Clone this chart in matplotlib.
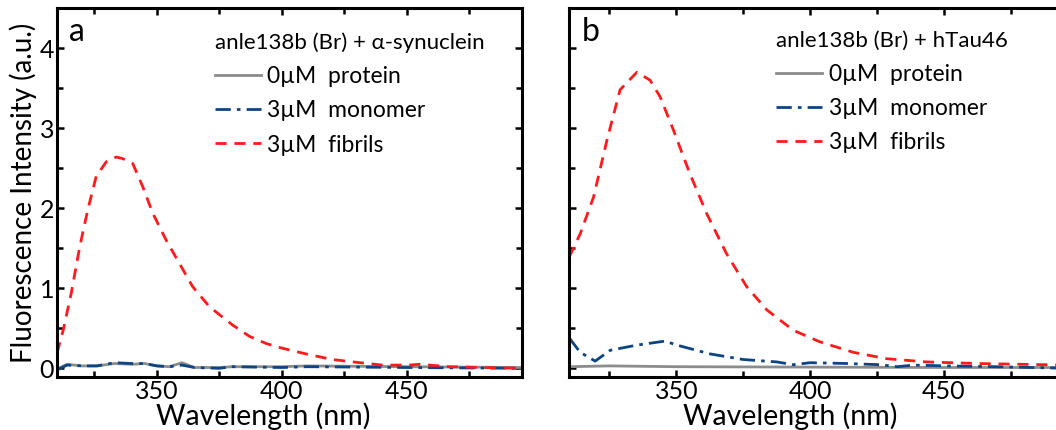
import matplotlib
matplotlib.use('Agg')
import matplotlib.pyplot as plt
from matplotlib.ticker import MultipleLocator

plt.rcParams['font.family'] = ['Lato', 'DejaVu Sans']

# ---- panel a: anle138b (Br) + alpha-synuclein ----
a_fib_x = [310, 312.5, 315.7, 319.1, 322.3, 325.7, 329.7, 333.7, 336.3, 340.3, 344.3,
           348.3, 353.7, 359, 364.3, 371, 380.3, 387, 393.7, 400.3, 411, 420.3,
           428.3, 440.3, 451, 455, 467, 480.3, 496]
a_fib_y = [0.19, 0.48, 0.94, 1.52, 1.98, 2.40, 2.58, 2.64, 2.62, 2.56, 2.27,
           1.94, 1.60, 1.31, 1.02, 0.77, 0.54, 0.40, 0.31, 0.25, 0.17, 0.11,
           0.08, 0.04, 0.04, 0.05, 0.02, 0.01, 0.0]
a_mon_x = [310, 314, 320, 326, 333, 340, 345, 350, 355, 360, 365, 375, 380, 400,
           410, 450, 496]
a_mon_y = [-0.02, 0.04, 0.03, 0.03, 0.07, 0.06, 0.06, 0.03, 0.02, 0.04, 0.01,
           0.0, 0.02, 0.01, 0.02, 0.01, 0.0]
a_blank_x = [310, 314, 320, 326, 333, 340, 345, 350, 355, 360, 365, 375, 380, 400,
             410, 450, 496]
a_blank_y = [-0.01, 0.05, 0.03, 0.03, 0.06, 0.05, 0.06, 0.03, 0.02, 0.07, 0.01,
             0.01, 0.02, 0.02, 0.03, 0.02, 0.01]

# ---- panel b: anle138b (Br) + hTau46 ----
b_fib_x = [310, 314.1, 319.1, 324.1, 329, 335.3, 340.2, 344, 348.9, 355.1, 361.4,
           368.8, 376.3, 383.8, 393.7, 403.7, 416.1, 428.5, 443.4, 462, 496]
b_fib_y = [1.39, 1.68, 2.14, 2.85, 3.48, 3.70, 3.60, 3.39, 2.98, 2.43, 1.93,
           1.43, 1.02, 0.73, 0.475, 0.33, 0.20, 0.12, 0.08, 0.06, 0.04]
b_mon_x = [310, 314.1, 319.7, 325.3, 335.3, 345.8, 350.2, 362.6, 375, 387.5, 393.7,
           400, 413.7, 426, 432.5, 438.5, 451, 469.8, 496]
b_mon_y = [0.38, 0.20, 0.09, 0.225, 0.29, 0.34, 0.29, 0.18, 0.11, 0.08, 0.045,
           0.07, 0.06, 0.045, 0.02, 0.04, 0.03, 0.02, 0.0]
b_blank_x = [310, 325, 350, 400, 450, 496]
b_blank_y = [0.02, 0.03, 0.02, 0.015, 0.01, 0.01]

labels = ['0\u00b5M  protein', '3\u00b5M  monomer', '3\u00b5M  fibrils']
gray = '#8c8c8c'
blue = '#0b4587'
red = '#ff1a1a'

fig = plt.figure(figsize=(10.56, 4.30), dpi=100)
ax_a = fig.add_axes([0.054, 0.123, 0.440, 0.858])
ax_b = fig.add_axes([0.539, 0.123, 0.4716, 0.858])


def draw(ax, bx, by, mx, my, fx, fy, title, letter, ylabels, leg_pos):
    ax.plot(bx, by, color=gray, lw=2, label=labels[0])
    ax.plot(mx, my, color=blue, lw=2, dashes=(5.5, 2.2, 1.3, 2.2), label=labels[1])
    ax.plot(fx, fy, color=red, lw=2, dashes=(4, 2.8), label=labels[2])
    ax.set_xlim(310, 496)
    ax.set_ylim(-0.11, 4.5)
    ax.xaxis.set_major_locator(MultipleLocator(50))
    ax.xaxis.set_minor_locator(MultipleLocator(25))
    ax.yaxis.set_major_locator(MultipleLocator(1))
    ax.yaxis.set_minor_locator(MultipleLocator(0.5))
    ax.tick_params(which='both', direction='in', top=True, right=True, width=1.8,
                   labelsize=18, pad=2)
    ax.tick_params(which='major', length=5)
    ax.tick_params(which='minor', length=4)
    if not ylabels:
        ax.tick_params(axis='y', labelleft=False)
    for s in ax.spines.values():
        s.set_linewidth(2.2)
    ax.set_xlabel('Wavelength (nm)', fontsize=20.5, labelpad=0, x=0.443)
    leg = ax.legend(title=title, frameon=False, fontsize=16.5, title_fontsize=16,
                    loc='upper left', bbox_to_anchor=leg_pos,
                    alignment='left', handlelength=2.0, handletextpad=0.3,
                    labelspacing=0.58, borderaxespad=0.4)
    ax.text(0.025, 0.975, letter, transform=ax.transAxes, fontsize=23,
            va='top', ha='left')
    return leg


draw(ax_a, a_blank_x, a_blank_y, a_mon_x, a_mon_y, a_fib_x, a_fib_y,
     'anle138b (Br) + \u03b1-synuclein', 'a', True, (0.30, 0.985))
draw(ax_b, b_blank_x, b_blank_y, b_mon_x, b_mon_y, b_fib_x, b_fib_y,
     'anle138b (Br) + hTau46', 'b', False, (0.379, 0.989))
ax_a.set_ylabel('Fluorescence Intensity (a.u.)', fontsize=20, labelpad=2)

fig.savefig('out.png', dpi=100)
